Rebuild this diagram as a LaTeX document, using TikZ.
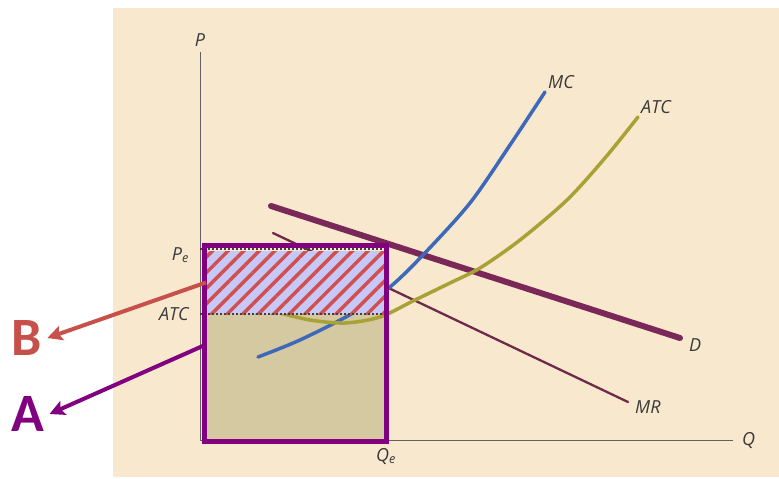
\documentclass[tikz,border=0pt]{standalone}
\usepackage{fontspec}
\setsansfont{Open Sans}
\newfontfamily\letrafont{Carlito}
\usepackage{tikz}
\usetikzlibrary{positioning,arrows.meta,patterns.meta}
\definecolor{papelBeige}{HTML}{F8E8CE}
\definecolor{costeKhaki}{HTML}{D4C9A0}
\definecolor{lavanda}{HTML}{C8C8F8}
\definecolor{rayaRoja}{HTML}{D05050}
\definecolor{moradoCaja}{HTML}{800080}
\definecolor{rojoB}{HTML}{C8504A}
\definecolor{azulMC}{HTML}{3E68B8}
\definecolor{olivaATC}{HTML}{A8A236}
\definecolor{granateD}{HTML}{7A2858}
\definecolor{granateMR}{HTML}{6E2A48}
\definecolor{tinta}{HTML}{3A3A3A}

\begin{document}
\begin{tikzpicture}[
        x=1pt, y=-1pt,
        etiqueta/.style={font=\sffamily\itshape\fontsize{18}{18}\selectfont, text=tinta, inner sep=1pt},
        eje/.style={draw=tinta!80, line width=1pt},
        curva/.style={line width=3.5pt, line cap=round},
        zonaCoste/.style={rectangle, fill=costeKhaki, inner sep=0pt, outer sep=0pt, anchor=north west},
        zonaBeneficio/.style={rectangle, fill=lavanda, inner sep=0pt, outer sep=0pt, anchor=north west,
            postaction={pattern={Lines[angle=45, distance=11pt, line width=3.5pt]}, pattern color=rayaRoja}},
        punteada/.style={draw=black!75, line width=1.6pt, dash pattern=on 1.6pt off 2.4pt},
        letra/.style={font=\letrafont\bfseries\fontsize{54}{54}\selectfont, inner sep=5pt},
        flecha/.style={-{Stealth[length=15pt, width=15pt, inset=3pt]}, line width=4pt}
    ]
        % Papel
        \useasboundingbox (0,0) rectangle (779,479);
        \fill[papelBeige] (113,8) rectangle (779,477);

        % Coste total (caja inferior)
        \node[zonaCoste, minimum width=182pt, minimum height=127pt] (coste) at (204,314) {};

        % Ejes
        \coordinate (origen) at (200,440);
        \coordinate (ptop) at (200,52);
        \coordinate (qfin) at (733,440);
        \draw[eje] (ptop) -- (origen) -- (qfin);
        \node[etiqueta, above=4pt of ptop] (pLab) {P};
        \node[etiqueta, right=8pt of qfin] (qLab) {Q};

        % Demanda e ingreso marginal
        \coordinate (dIni) at (271,206);
        \coordinate (dFin) at (680,338);
        \draw[granateD, curva, line width=6pt] (dIni) -- (dFin);
        \node[etiqueta, right=8pt of dFin, yshift=-7pt] (dLab) {D};

        \coordinate (mrIni) at (273,233);
        \coordinate (mrFin) at (628,402);
        \draw[granateMR, line width=2.3pt, line cap=round] (mrIni) -- (mrFin);
        \node[etiqueta, right=6pt of mrFin, yshift=-5pt] (mrLab) {MR};

        % Costes
        \draw[azulMC, curva] plot[smooth] coordinates {(258,357) (300,340) (353,313) (390,287) (423,255) (470,203) (510,145) (545,92)};
        \coordinate (mcTop) at (545,92);
        \node[etiqueta, above right=2pt and 2pt of mcTop] (mcLab) {MC};

        \draw[olivaATC, curva] plot[smooth] coordinates {(280,313) (310,320) (345,323) (380,317) (413,301) (450,283) (480,268) (520,240) (567,200) (605,158) (638,117)};
        \coordinate (atcTop) at (638,117);
        \node[etiqueta, above right=2pt and 2pt of atcTop] (atcLab) {ATC};

        % Beneficio (rayado)
        \node[zonaBeneficio, minimum width=180pt, minimum height=63pt] (beneficio) at (206,251) {};

        % Precio y coste medio
        \coordinate (pe) at (200,249);
        \coordinate (atc) at (200,314);
        \draw[punteada] (pe) -- (386,249);
        \draw[punteada] (atc) -- (386,314);
        \node[etiqueta, left=10pt of pe, yshift=-6pt] (peLab) {P\textsubscript{e}};
        \node[etiqueta, left=10pt of atc] (atcEje) {ATC};

        % Caja morada
        \draw[moradoCaja, line width=5pt] (204,245) rectangle (386,441);
        \coordinate (qe) at (386,441);
        \node[etiqueta, below=6pt of qe] (qeLab) {Q\textsubscript{e}};

        % Flechas A y B
        \node[letra, text=rojoB] (bLab) at (27,338) {B};
        \node[letra, text=moradoCaja] (aLab) at (28,414) {A};
        \coordinate (costePt) at (205,345);
        \draw[flecha, draw=rojoB] (beneficio.west) -- (bLab.east);
        \draw[flecha, draw=moradoCaja] (costePt) -- (aLab.east);
    \end{tikzpicture}
\end{document}
